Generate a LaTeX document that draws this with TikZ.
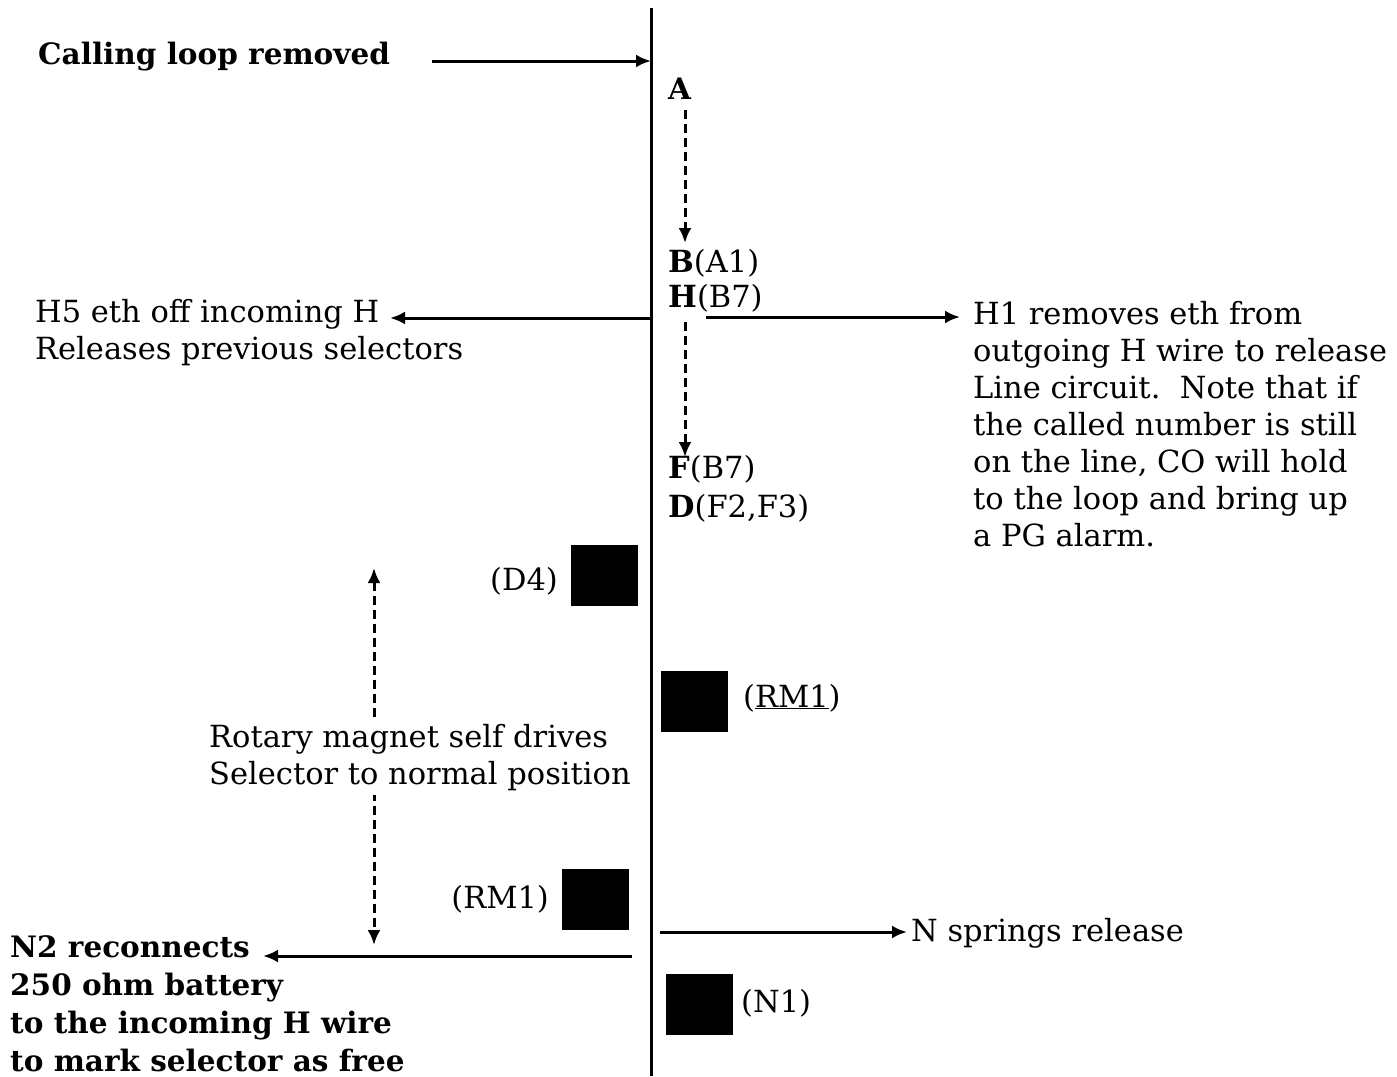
\documentclass[tikz,border=0pt]{standalone}
\usepackage{fontspec}
\setmainfont{DejaVu Serif}
\usetikzlibrary{arrows.meta}
\begin{document}
\begin{tikzpicture}[x=1pt,y=-1pt,
  txt/.style={inner sep=0pt,font=\fontsize{30.5}{37}\selectfont,align=left},
  bt/.style={txt,font=\fontsize{29.5}{38}\selectfont\bfseries},
  wire/.style={line width=3pt},
  arr/.style={line width=3pt,-{Latex[length=15pt,width=13pt]}},
  darr/.style={line width=3pt,dash pattern=on 9pt off 5pt,-{Latex[length=15pt,width=13pt]}},
  sq/.style={fill=black,draw=none,minimum width=67pt,minimum height=61pt,inner sep=0pt}]
\useasboundingbox (0,0) rectangle (1397,1076);
% main vertical line
\coordinate (vtop) at (651,8);
\coordinate (vbot) at (651,1076);
\draw[wire] (vtop) -- (vbot);
% calling loop removed
\node[bt,anchor=west] (calling) at (38,57) {Calling loop removed};
\coordinate (c1) at (432,61);
\coordinate (c2) at (651,61);
\draw[arr] (c1) -- (c2);
% A
\node[bt,anchor=west] (A) at (668,89) {A};
\coordinate (a1) at (685,110);
\coordinate (a2) at (685,243);
\draw[darr] (a1) -- (a2);
\node[txt,anchor=west] (B) at (668,263) {\textbf{B}(A1)};
\node[txt,anchor=west] (H) at (668,298) {\textbf{H}(B7)};
% left H5
\node[txt,anchor=west] (h5) at (35,333) {H5 eth off incoming H\\Releases previous selectors};
\coordinate (l1) at (651,318);
\coordinate (l2) at (390,318);
\draw[arr] (l1) -- (l2);
% right H1
\node[txt,anchor=north west] (h1) at (973,301) {H1 removes eth from\\outgoing H wire to release\\Line circuit.\ \ Note that if\\the called number is still\\on the line, CO will hold\\to the loop and bring up\\a PG alarm.};
\coordinate (r1) at (706,317);
\coordinate (r2) at (960,317);
\draw[arr] (r1) -- (r2);
% H to F
\coordinate (f1) at (685,322);
\coordinate (f2) at (685,457);
\draw[darr] (f1) -- (f2);
\node[txt,anchor=west] (F) at (668,469) {\textbf{F}(B7)};
\node[txt,anchor=west] (D) at (668,508) {\textbf{D}(F2,F3)};
% D4
\node[sq] (sqD4) at (604.5,575.5) {};
\node[txt,anchor=east] (lD4) at (558,581) {(D4)};
% RM1 right
\node[sq] (sqRM1a) at (694.5,701.5) {};
\node[txt,anchor=west] (lRM1a) at (743,698) {(\underline{RM1})};
% rotary magnet
\coordinate (m1) at (374,945);
\coordinate (m2) at (374,568);
\draw[darr,{Latex[length=15pt,width=13pt]}-{Latex[length=15pt,width=13pt]}] (m2) -- (m1);
\node[txt,anchor=west,fill=white,inner ysep=4pt] (rot) at (209,758) {Rotary magnet self drives\\Selector to normal position};
% RM1 lower
\node[sq] (sqRM1b) at (595,899.5) {};
\node[txt,anchor=east] (lRM1b) at (549,899) {(RM1)};
% N springs
\node[txt,anchor=west] (nspr) at (911,933) {N springs release};
\coordinate (n1) at (660,932);
\coordinate (n2) at (907,932);
\draw[arr] (n1) -- (n2);
% N2 reconnects
\node[bt,anchor=north west] (n2t) at (10,935) {N2 reconnects\\250 ohm battery\\to the incoming H wire\\to mark selector as free};
\coordinate (k1) at (632,956);
\coordinate (k2) at (263,956);
\draw[arr] (k1) -- (k2);
% N1
\node[sq] (sqN1) at (699.5,1004) {};
\node[txt,anchor=west] (lN1) at (741,1003) {(N1)};
\end{tikzpicture}
\end{document}
